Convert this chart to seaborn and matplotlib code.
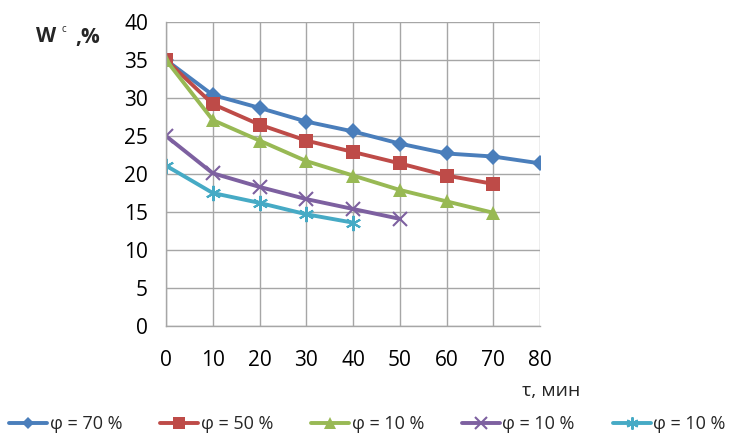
import matplotlib
matplotlib.use("Agg")
import matplotlib.pyplot as plt
import seaborn as sns
import pandas as pd

t = [0, 10, 20, 30, 40, 50, 60, 70, 80]
s_70 = [35, 30.4, 28.7, 26.9, 25.6, 24.0, 22.7, 22.3, 21.4]
s_50 = [35, 29.2, 26.5, 24.4, 22.9, 21.4, 19.8, 18.7]
s_10a = [35, 27.1, 24.4, 21.7, 19.8, 17.9, 16.4, 14.9]
s_10b = [25.0, 20.1, 18.3, 16.7, 15.4, 14.1]
s_10c = [21.1, 17.5, 16.2, 14.7, 13.6]
labels = ["φ = 70 %", "φ = 50 %", "φ = 10 %", "φ = 10 %", "φ = 10 %"]
series = [s_70, s_50, s_10a, s_10b, s_10c]
colors = ["#4A7EBB", "#BE4B48", "#98B954", "#7D60A0", "#46AAC5"]
markers = ["D", "s", "^", "x", (6, 2, 0)]
msizes = [8, 10, 10, 10, 11]

sns.set_theme(style="white")
plt.rcParams["font.family"] = ["Open Sans", "DejaVu Sans"]

fig = plt.figure(figsize=(7.41, 4.37), dpi=100)
ax = fig.add_axes([166/741, 1-326/437, (540-166)/741, (326-22)/437])

for lab, vals, c, m, ms in zip(labels, series, colors, markers, msizes):
    df = pd.DataFrame({"t": t[:len(vals)], "w": vals})
    mew = 1.5 if m in ("x", (6, 2, 0)) else 0
    sns.lineplot(data=df, x="t", y="w", ax=ax, color=c, marker=m, markersize=ms,
                 linewidth=2.8, label=lab, markeredgewidth=mew,
                 markeredgecolor=c)

ax.set_xlim(0, 80)
ax.set_ylim(0, 40)
ax.set_xticks(range(0, 81, 10))
ax.set_yticks(range(0, 41, 5))
ax.grid(True, color="#A6A6A6", linewidth=1)
for side in ["top", "right"]:
    ax.spines[side].set_visible(False)
for side in ["left", "bottom"]:
    ax.spines[side].set_color("#A6A6A6")
    ax.spines[side].set_linewidth(1)
ax.tick_params(axis="both", labelsize=15, length=7, color="#A6A6A6", direction="out",
               labelcolor="black", width=1)
ax.tick_params(axis="x", pad=10)
ax.tick_params(axis="y", pad=6)
ax.set_xlabel("")
ax.set_ylabel("")
ax.set_axisbelow(True)

fig.text(36/741, 1-37/437, "W", fontsize=15, fontweight="bold", va="center", ha="left")
fig.text(61/741, 1-30/437, "c", fontsize=7, va="center", ha="left")
fig.text(75/741, 1-37/437, ",%", fontsize=15, fontweight="bold", va="center", ha="left")
fig.text(580/741, 1-391/437, "τ, мин", fontsize=14, va="center", ha="right")

ax.get_legend().remove()
handles, labs = ax.get_legend_handles_labels()
fig.legend(handles, labs, loc="center left", bbox_to_anchor=(9/741, 1-424/437), ncol=5,
           frameon=False, fontsize=13, handlelength=2.1, columnspacing=2.1,
           handletextpad=0.15, borderaxespad=0, borderpad=0, markerscale=0.8)

fig.savefig("out.png", dpi=100)
